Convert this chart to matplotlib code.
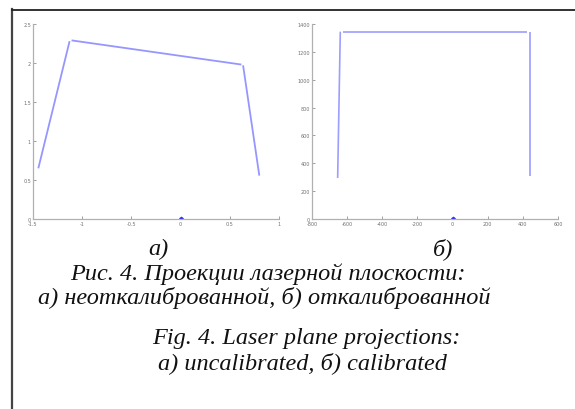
import matplotlib
matplotlib.use("Agg")
import matplotlib.pyplot as plt
from matplotlib.lines import Line2D

# --- data ---
# (а) uncalibrated projection: three separate segments
uncal_x = [[-1.446, -1.128], [-1.108, 0.618], [0.635, 0.80]]
uncal_y = [[0.65, 2.28], [2.29, 1.98], [1.97, 0.556]]
uncal_xticks = [-1.5, -1, -0.5, 0, 0.5, 1]
uncal_yticks = [0, 0.5, 1, 1.5, 2, 2.5]

# (б) calibrated projection
cal_x = [[-654, -639], [-626, 424], [443, 443]]
cal_y = [[294, 1345], [1345, 1345], [1345, 311]]
cal_xticks = [-800, -600, -400, -200, 0, 200, 400, 600]
cal_yticks = [0, 200, 400, 600, 800, 1000, 1200, 1400]

origin = (0, 0)

caption_ru = ["Рис. 4. Проекции лазерной плоскости:",
              "а) неоткалиброванной, б) откалиброванной"]
caption_en = ["Fig. 4. Laser plane projections:",
              "а) uncalibrated, б) calibrated"]

W, H = 575, 410
fig = plt.figure(figsize=(W / 100, H / 100), dpi=100)


def px_axes(x0, y0, x1, y1):
    # pixel box (top-left origin) -> figure fraction
    return fig.add_axes([x0 / W, 1 - y1 / H, (x1 - x0) / W, (y1 - y0) / H])


def style_axes(ax, xticks, yticks):
    for side in ("top", "right"):
        ax.spines[side].set_visible(False)
    for side in ("left", "bottom"):
        ax.spines[side].set_color("#b0b0b0")
        ax.spines[side].set_linewidth(0.9)
    ax.set_xticks(xticks)
    ax.set_yticks(yticks)
    ax.set_xticklabels([f"{t:g}" for t in xticks])
    ax.set_yticklabels([f"{t:g}" for t in yticks])
    ax.tick_params(direction="in", length=2, width=0.6, color="#909090",
                   labelsize=3.5, labelcolor="#707070", pad=1.5)
    ax.set_xlim(xticks[0], xticks[-1])
    ax.set_ylim(yticks[0], yticks[-1])
    ax.patch.set_alpha(0)


ax1 = px_axes(33, 25, 279, 220)
for xs, ys in zip(uncal_x, uncal_y):
    ax1.plot(xs, ys, color="#6a6aff", alpha=0.7, lw=1.3, solid_capstyle="butt")
ax1.plot(*origin, "o", color="#2a2aff", ms=2.5)
style_axes(ax1, uncal_xticks, uncal_yticks)

ax2 = px_axes(312, 25, 558, 220)
for xs, ys in zip(cal_x, cal_y):
    ax2.plot(xs, ys, color="#6a6aff", alpha=0.65, lw=1.2, solid_capstyle="butt")
ax2.plot(*origin, "o", color="#2a2aff", ms=2.5)
style_axes(ax2, cal_xticks, cal_yticks)

# frame lines of the page
fig.add_artist(Line2D([12 / W, 12 / W], [0, 1 - 10 / H], transform=fig.transFigure,
                      color="#444444", lw=1.6))
fig.add_artist(Line2D([12 / W, 1], [1 - 10.5 / H, 1 - 10.5 / H], transform=fig.transFigure,
                      color="#222222", lw=1.3))

txt = dict(family="Liberation Serif", style="italic", fontsize=17.5,
           ha="center", va="center", color="#111111")
fig.text(158 / W, 1 - 249 / H, "а)", **txt)
fig.text(443 / W, 1 - 249 / H, "б)", **txt)
fig.text(268 / W, 1 - 274 / H, caption_ru[0], **txt)
fig.text(264 / W, 1 - 298 / H, caption_ru[1], **txt)
fig.text(306 / W, 1 - 339 / H, caption_en[0], **txt)
fig.text(302 / W, 1 - 363 / H, caption_en[1], **txt)

fig.savefig("out.png", dpi=100, facecolor="white")
